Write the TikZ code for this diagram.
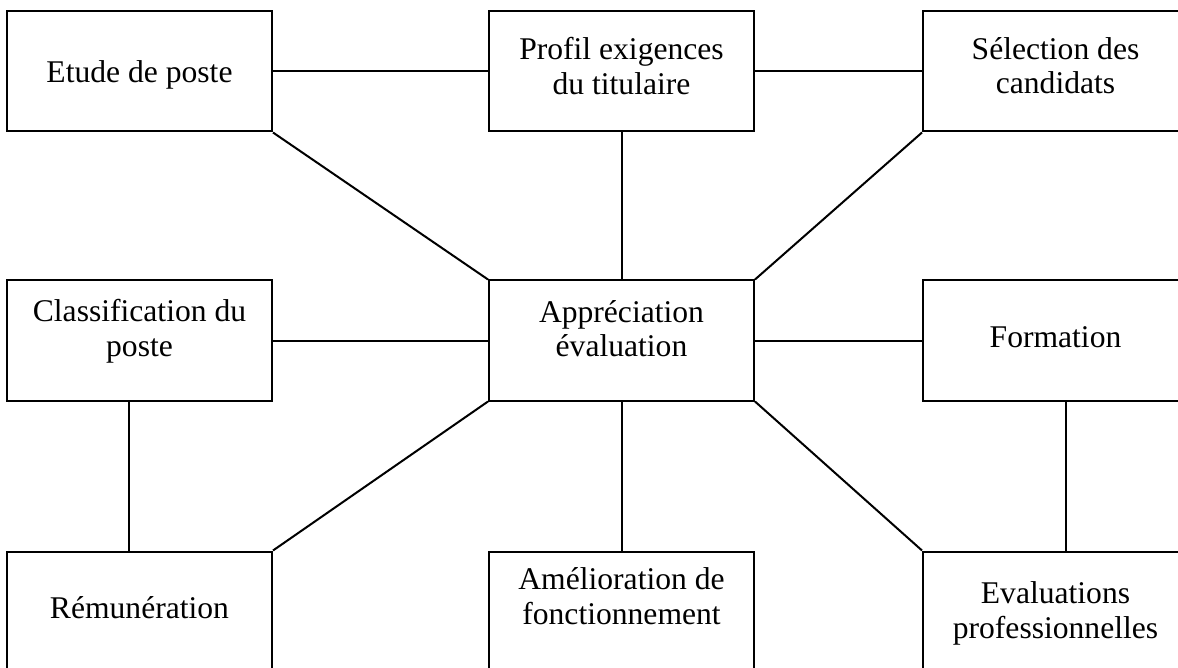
\documentclass[tikz,border=0pt]{standalone}
\usepackage{fontspec}
\setmainfont{Liberation Serif}
\usetikzlibrary{positioning}
\definecolor{apink}{HTML}{000000}
\tikzset{
  ap text/.style={font=\fontsize{15.8}{17.4}\selectfont, text=apink},
  ap box/.style={draw=apink, line width=1pt, fill=white,
    minimum width=132.5pt, minimum height=60pt, align=center, inner sep=2pt},
  ap link/.style={draw=apink, line width=1pt},
  ap lift/.style={text depth=#1}
}
\begin{document}
\begin{tikzpicture}[ap text, x=0.5pt, y=-0.5pt]
  \clip (0,0) rectangle (1178,668);
  \useasboundingbox (0,0) rectangle (1178,668);
  \node[ap box, ap lift=12pt] (app) at (621.5,340.5) {Appréciation\\évaluation};
  \node[ap box, ap lift=6pt, above=73.5pt of app] (prof) {Profil exigences\\du titulaire};
  \node[ap box, ap lift=13pt, left=107.5pt of app] (cls) {Classification du\\poste};
  \node[ap box, ap lift=3pt, right=83.5pt of app] (form) {Formation};
  \node[ap box, ap lift=0pt, above=73.5pt of cls] (etude) {Etude de poste};
  \node[ap box, ap lift=6pt, above=73.5pt of form] (sel) {Sélection des\\candidats};
  \node[ap box, ap lift=15.5pt, below=74.5pt of app] (amel) {Amélioration de\\fonctionnement};
  \node[ap box, ap lift=4pt, below=74.5pt of cls] (rem) {Rémunération};
  \node[ap box, ap lift=1.5pt, below=74.5pt of form] (eval) {Evaluations\\professionnelles};
  % links around the centre box
  \draw[ap link] (etude) -- (prof);
  \draw[ap link] (prof) -- (sel);
  \draw[ap link] (etude.south east) -- (app.north west);
  \draw[ap link] (prof) -- (app);
  \draw[ap link] (sel.south west) -- (app.north east);
  \draw[ap link] (cls) -- (app);
  \draw[ap link] (app) -- (form);
  \draw[ap link] (app.south west) -- (rem.north east);
  \draw[ap link] (app) -- (amel);
  \draw[ap link] (app.south east) -- (eval.north west);
  \draw[ap link] ([xshift=61.5pt]cls.south west) -- ([xshift=61.5pt]rem.north west);
  \draw[ap link] ([xshift=72pt]form.south west) -- ([xshift=72pt]eval.north west);
\end{tikzpicture}
\end{document}
